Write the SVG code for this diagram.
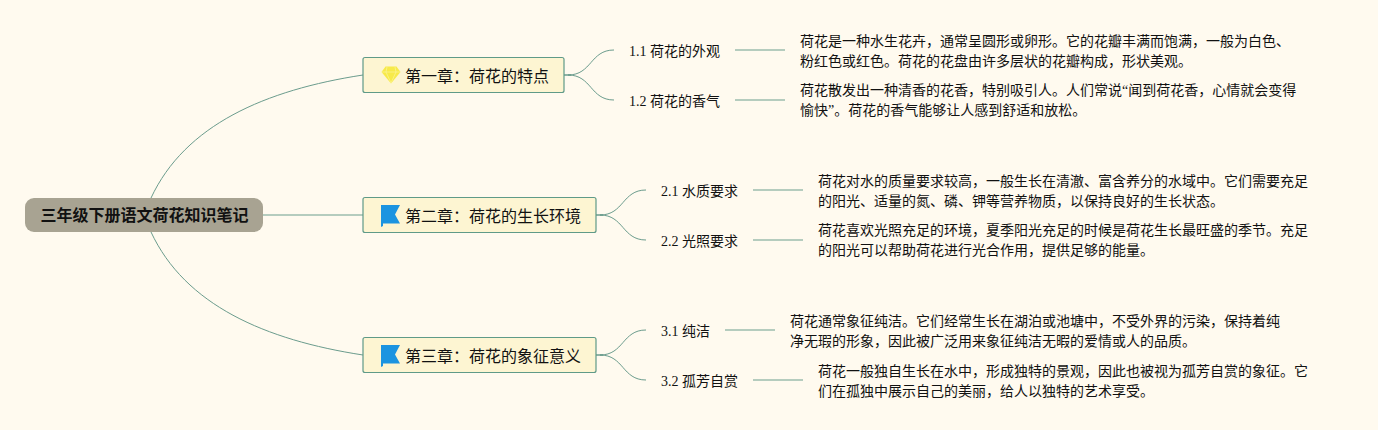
<svg xmlns="http://www.w3.org/2000/svg" width="1378" height="430" viewBox="0 0 1378 430">
<style>
text{font-family:"Liberation Serif","Noto Sans CJK SC",serif;fill:#111}
.root{font-size:16px;font-weight:700}
.ch{font-size:16px}
.sub,.desc{font-size:14px}
.box{fill:#fdf5d2;stroke:#5f9a88;stroke-width:1.2}
.thin{fill:none;stroke:#6b9c8d;stroke-width:1}
.bar{fill:none;stroke:#9dbdae;stroke-width:1.5}
.stub{fill:none;stroke:#6b9c8d;stroke-width:1.6}
</style>
<defs>
<g id="flag"><path d="M381 205h19l-5 9.500 5 9h-17v2.500l-2 1z" fill="#1b94e0"/></g>
<g id="gem"><path d="M385.500 66.500h11l4 5.500-9.500 11.500-9.500-11.500z" fill="#f7ea4a"/><path d="M382 72h18M387 67l-1 5 5 11 5-11-1-5" fill="none" stroke="#fbf39a" stroke-width=".7"/></g>
</defs>
<rect width="1378" height="430" fill="#fffaef"/>
<g id="connectors">
<path class="thin" d="M151 198C185 125 265 90 363 75"/>
<path class="thin" d="M151 232C185 305 265 340 363 355"/>
<path class="bar" d="M263 215H363"/>
<path class="stub" d="M564 75H571M596 215H603M596 355H603"/>
<path class="thin" d="M568 75C592 75 590 50 614 50M568 75C592 75 590 100 614 100"/>
<path class="thin" d="M600 215C624 215 622 190 646 190M600 215C624 215 622 240 646 240"/>
<path class="thin" d="M600 355C624 355 622 330 646 330M600 355C624 355 622 380 646 380"/>
<path class="bar" d="M735 50H785M735 100H785M753 190H803M753 240H803M725 330H775M753 380H803"/>
</g>
<g id="root"><rect x="25" y="198" width="238" height="34" rx="9" fill="#a8a392"/><text class="root" x="40.500" y="221">三年级下册语文荷花知识笔记</text></g>
<g id="ch1"><rect class="box" x="363" y="57.500" width="201" height="35" rx="2"/><use href="#gem"/><text class="ch" x="405" y="82">第一章：荷花的特点</text></g>
<g id="ch2"><rect class="box" x="363" y="197.500" width="233" height="35" rx="2"/><use href="#flag"/><text class="ch" x="405" y="222">第二章：荷花的生长环境</text></g>
<g id="ch3"><rect class="box" x="363" y="337.500" width="233" height="35" rx="2"/><use href="#flag" y="140"/><text class="ch" x="405" y="362">第三章：荷花的象征意义</text></g>
<g id="s11"><text class="sub" x="629" y="56">1.1 荷花的外观</text></g>
<g id="s12"><text class="sub" x="629" y="106">1.2 荷花的香气</text></g>
<g id="s21"><text class="sub" x="661" y="196">2.1 水质要求</text></g>
<g id="s22"><text class="sub" x="661" y="246">2.2 光照要求</text></g>
<g id="s31"><text class="sub" x="661" y="336">3.1 纯洁</text></g>
<g id="s32"><text class="sub" x="661" y="386">3.2 孤芳自赏</text></g>
<g id="d11"><text class="desc" x="800" y="46">荷花是一种水生花卉，通常呈圆形或卵形。它的花瓣丰满而饱满，一般为白色、</text><text class="desc" x="800" y="66">粉红色或红色。荷花的花盘由许多层状的花瓣构成，形状美观。</text></g>
<g id="d12"><text class="desc" x="800" y="95">荷花散发出一种清香的花香，特别吸引人。人们常说“闻到荷花香，心情就会变得</text><text class="desc" x="800" y="115">愉快”。荷花的香气能够让人感到舒适和放松。</text></g>
<g id="d21"><text class="desc" x="818" y="186">荷花对水的质量要求较高，一般生长在清澈、富含养分的水域中。它们需要充足</text><text class="desc" x="818" y="206">的阳光、适量的氮、磷、钾等营养物质，以保持良好的生长状态。</text></g>
<g id="d22"><text class="desc" x="818" y="235">荷花喜欢光照充足的环境，夏季阳光充足的时候是荷花生长最旺盛的季节。充足</text><text class="desc" x="818" y="255">的阳光可以帮助荷花进行光合作用，提供足够的能量。</text></g>
<g id="d31"><text class="desc" x="790" y="326">荷花通常象征纯洁。它们经常生长在湖泊或池塘中，不受外界的污染，保持着纯</text><text class="desc" x="790" y="346">净无瑕的形象，因此被广泛用来象征纯洁无暇的爱情或人的品质。</text></g>
<g id="d32"><text class="desc" x="818" y="376">荷花一般独自生长在水中，形成独特的景观，因此也被视为孤芳自赏的象征。它</text><text class="desc" x="818" y="396">们在孤独中展示自己的美丽，给人以独特的艺术享受。</text></g>
</svg>
